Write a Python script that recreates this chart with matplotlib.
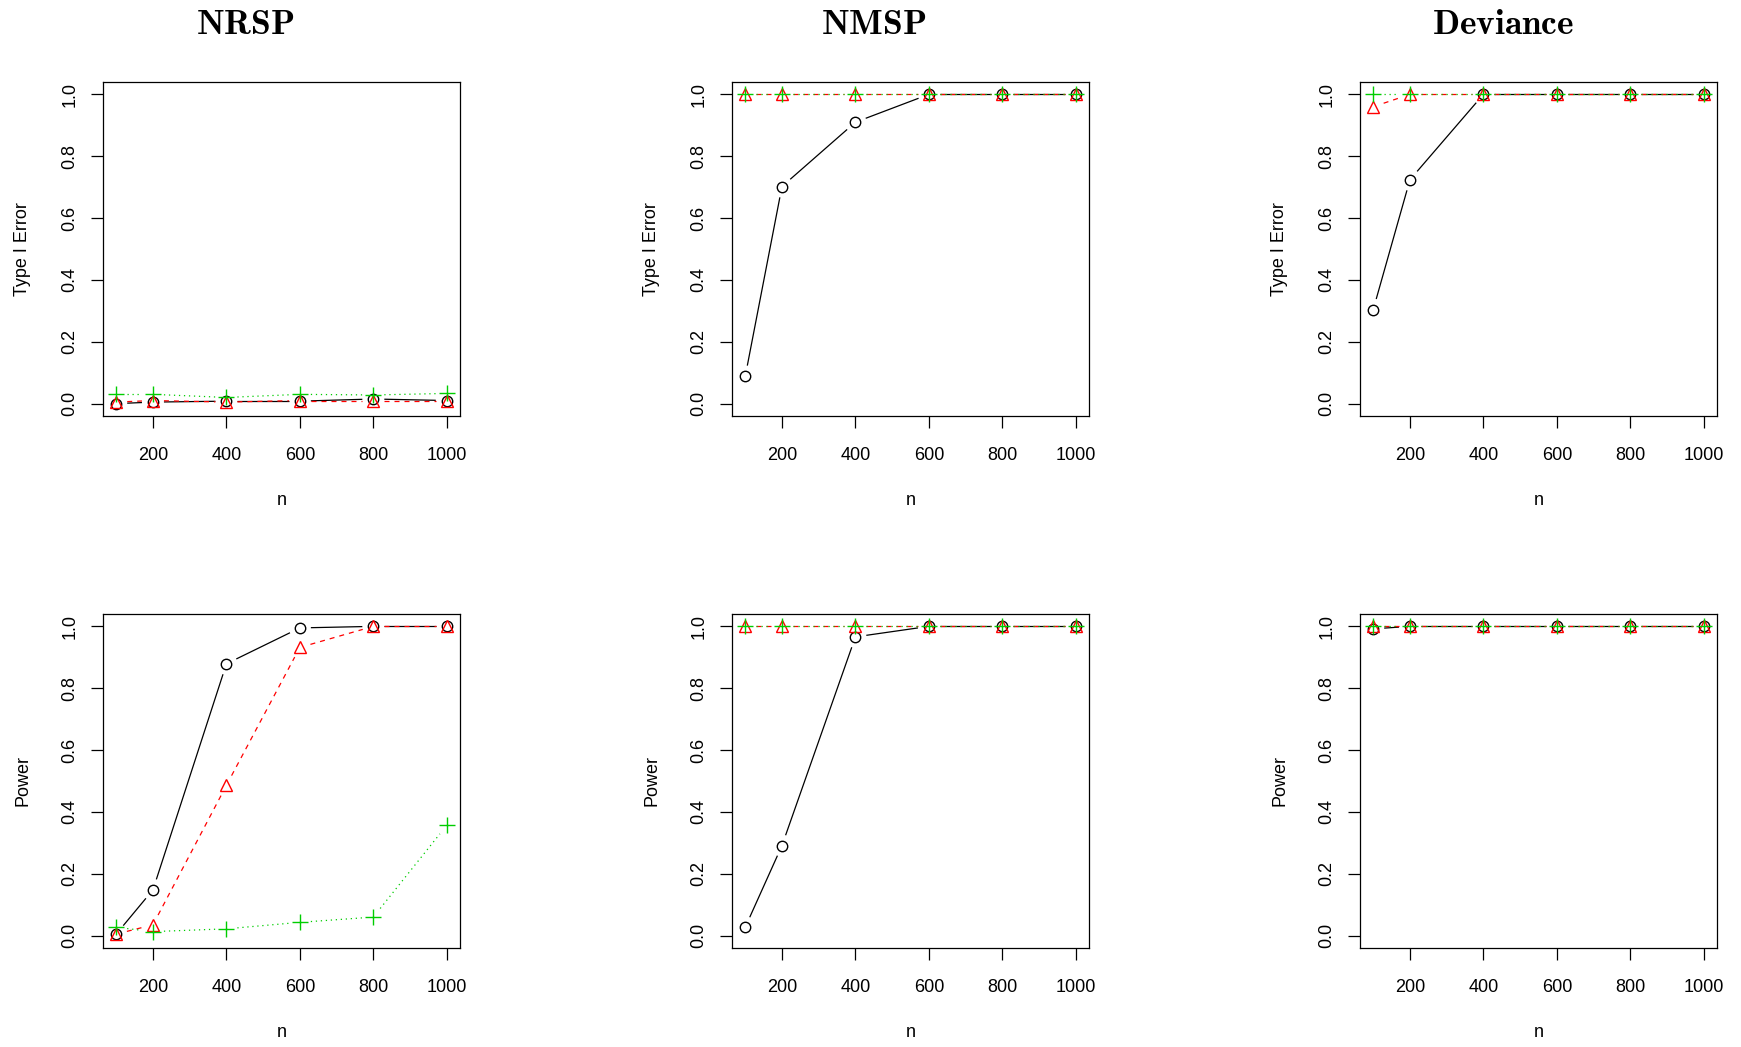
import matplotlib
matplotlib.use("Agg")
import matplotlib.pyplot as plt
import numpy as np

plt.rcParams['font.family'] = ['Liberation Sans', 'DejaVu Sans']
plt.rcParams['mathtext.fontset'] = 'cm'

n = [100, 200, 400, 600, 800, 1000]
methods = ["NRSP", "NMSP", "Deviance"]
row_labels = ["Type I Error", "Power"]

# series a = black circles, b = red triangles, c = green pluses
nrsp_t1_a = [0.0, 0.005, 0.008, 0.008, 0.015, 0.01]
nrsp_t1_b = [0.005, 0.01, 0.005, 0.01, 0.01, 0.01]
nrsp_t1_c = [0.03, 0.03, 0.02, 0.03, 0.028, 0.033]
nmsp_t1_a = [0.088, 0.702, 0.910, 1.0, 1.0, 1.0]
nmsp_t1_b = [1.0, 1.0, 1.0, 1.0, 1.0, 1.0]
nmsp_t1_c = [1.0, 1.0, 1.0, 1.0, 1.0, 1.0]
dev_t1_a = [0.304, 0.724, 1.0, 1.0, 1.0, 1.0]
dev_t1_b = [0.96, 1.0, 1.0, 1.0, 1.0, 1.0]
dev_t1_c = [1.0, 1.0, 1.0, 1.0, 1.0, 1.0]

nrsp_pw_a = [0.005, 0.148, 0.879, 0.995, 1.0, 1.0]
nrsp_pw_b = [0.005, 0.035, 0.486, 0.932, 1.0, 1.0]
nrsp_pw_c = [0.027, 0.013, 0.022, 0.043, 0.06, 0.357]
nmsp_pw_a = [0.027, 0.291, 0.966, 1.0, 1.0, 1.0]
nmsp_pw_b = [1.0, 1.0, 1.0, 1.0, 1.0, 1.0]
nmsp_pw_c = [1.0, 1.0, 1.0, 1.0, 1.0, 1.0]
dev_pw_a = [0.992, 1.0, 1.0, 1.0, 1.0, 1.0]
dev_pw_b = [1.0, 1.0, 1.0, 1.0, 1.0, 1.0]
dev_pw_c = [1.0, 1.0, 1.0, 1.0, 1.0, 1.0]

panels = [
    [(nrsp_t1_a, nrsp_t1_b, nrsp_t1_c), (nmsp_t1_a, nmsp_t1_b, nmsp_t1_c), (dev_t1_a, dev_t1_b, dev_t1_c)],
    [(nrsp_pw_a, nrsp_pw_b, nrsp_pw_c), (nmsp_pw_a, nmsp_pw_b, nmsp_pw_c), (dev_pw_a, dev_pw_b, dev_pw_c)],
]

green = "#00CD00"
styles = [
    dict(color="black", ls="-", marker="o", ms=7.5),
    dict(color="red", ls=(0, (4, 4)), marker="^", ms=9),
    dict(color=green, ls=(0, (1, 3)), marker="+", ms=11),
]

W, H = 1741, 1047
fig = plt.figure(figsize=(W / 100, H / 100), dpi=100)

lefts = [103, 732, 1360]
tops = [82, 614]
bw, bh = 357, 334
gap = 11  # pixels left open around each point, like R type="b"


def draw_b(ax, x, y, color, ls, marker, ms):
    # lines with gaps at the points, then the points
    pts = ax.transData.transform(np.column_stack([x, y]))
    inv = ax.transData.inverted()
    for p0, p1 in zip(pts[:-1], pts[1:]):
        d = p1 - p0
        L = np.hypot(*d)
        if L <= 2 * gap:
            continue
        u = d / L
        q = inv.transform(np.array([p0 + u * gap, p1 - u * gap]))
        ax.plot(q[:, 0], q[:, 1], color=color, ls=ls, lw=0.9, solid_capstyle="butt")
    mfc = "none" if marker != "+" else color
    ax.plot(x, y, ls="none", marker=marker, ms=ms, mec=color, mfc=mfc, mew=1.0)


for r in range(2):
    for c in range(3):
        ax = fig.add_axes([lefts[c] / W, 1 - (tops[r] + bh) / H, bw / W, bh / H])
        ax.set_xlim(64, 1036)
        ax.set_ylim(-0.04, 1.04)
        ax.set_xticks([200, 400, 600, 800, 1000])
        ax.set_yticks([0.0, 0.2, 0.4, 0.6, 0.8, 1.0])
        ax.set_yticklabels(["0.0", "0.2", "0.4", "0.6", "0.8", "1.0"], rotation=90, va="center")
        ax.tick_params(direction="out", length=8.5, width=0.9, labelsize=13)
        ax.tick_params(axis="x", pad=14)
        ax.tick_params(axis="y", pad=9)
        for s in ax.spines.values():
            s.set_linewidth(0.9)
        ax.set_xlabel("n", fontsize=13, labelpad=20)
        ax.set_ylabel(row_labels[r], fontsize=13, labelpad=22)
        for series, st in zip(panels[r][c], styles):
            draw_b(ax, n, series, **st)

title_x = [245, 874, 1503]
for m, tx in zip(methods, title_x):
    fig.text(tx / W, 1 - 24 / H, r"$\mathbf{" + m + "}$", ha="center", va="center", fontsize=25.5)

fig.savefig("out.png", dpi=100)
